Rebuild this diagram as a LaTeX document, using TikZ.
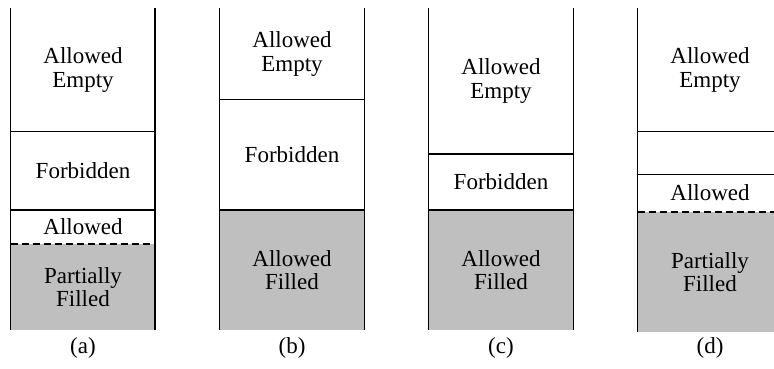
\documentclass[tikz,border=0pt]{standalone}
\usepackage{fontspec}
\setmainfont{Liberation Serif}
\begin{document}
\begin{tikzpicture}[x=1pt,y=-1pt,
  wall/.style={line width=1.4pt},
  sep/.style={line width=1.1pt},
  dsep/.style={line width=1.1pt, dash pattern=on 7pt off 4pt},
  filled/.style={fill=gray!50},
  lbl/.style={font=\fontsize{23}{23.5}\selectfont, align=center, text=black, inner sep=0pt}]
\useasboundingbox (0,0) rectangle (774,369);
% ---------- column (a)
\fill[filled] (10.7,244) rectangle (155,330);
\draw[sep] (10.7,131.7) -- (155,131.7);
\draw[sep] (10.7,210) -- (155,210);
\draw[dsep] (10.7,244) -- (155,244);
\draw[wall] (10.7,8) -- (10.7,330);
\draw[wall] (155,8) -- (155,330);
\node[lbl] (aE) at (83,70) {Allowed\\Empty};
\node[lbl] (aF) at (83,171) {Forbidden};
\node[lbl] (aA) at (83,227) {Allowed};
\node[lbl] (aP) at (83,287) {Partially\\Filled};
\node[lbl] (aL) at (83,348) {(a)};
% ---------- column (b)
\fill[filled] (219.3,210) rectangle (364.3,330);
\draw[sep] (219.3,99.3) -- (364.3,99.3);
\draw[sep] (219.3,210) -- (364.3,210);
\draw[wall] (219.3,8) -- (219.3,330);
\draw[wall] (364.3,8) -- (364.3,330);
\node[lbl] (bE) at (292,54) {Allowed\\Empty};
\node[lbl] (bF) at (292,155) {Forbidden};
\node[lbl] (bA) at (292,270) {Allowed\\Filled};
\node[lbl] (bL) at (292,348) {(b)};
% ---------- column (c)
\fill[filled] (428.7,210) rectangle (573.3,330);
\draw[sep] (428.7,154) -- (573.3,154);
\draw[sep] (428.7,210) -- (573.3,210);
\draw[wall] (428.7,8) -- (428.7,330);
\draw[wall] (573.3,8) -- (573.3,330);
\node[lbl] (cE) at (501,81) {Allowed\\Empty};
\node[lbl] (cF) at (501,182) {Forbidden};
\node[lbl] (cA) at (501,270) {Allowed\\Filled};
\node[lbl] (cL) at (501,348) {(c)};
% ---------- column (d)
\fill[filled] (637.5,212) rectangle (782,332);
\draw[sep] (637.5,131.7) -- (782,131.7);
\draw[sep] (637.5,174.3) -- (782,174.3);
\draw[dsep] (637.5,212) -- (782,212);
\draw[wall] (637.5,8) -- (637.5,332);
\node[lbl] (dE) at (710,70) {Allowed\\Empty};
\node[lbl] (dA) at (710,193) {Allowed};
\node[lbl] (dP) at (710,272) {Partially\\Filled};
\node[lbl] (dL) at (710,348) {(d)};
\end{tikzpicture}
\end{document}
